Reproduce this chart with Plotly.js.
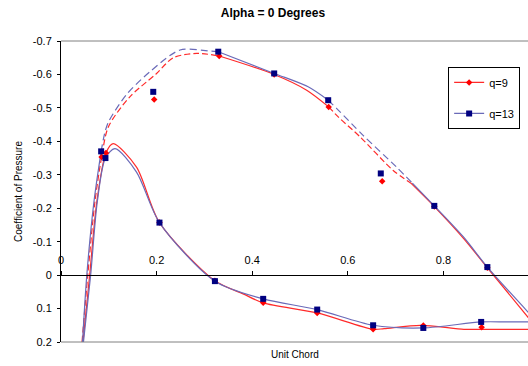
<!DOCTYPE html>
<html>
<head>
<meta charset="utf-8">
<script src="https://cdn.plot.ly/plotly-3.0.1.min.js"></script>
<style>
  html, body { margin: 0; padding: 0; background: #fff; }
  #chart { width: 528px; height: 366px; }
</style>
</head>
<body>
<div id="chart"></div>
<script>
// ---- Pressure taps (chord position, Cp) ----
const tapX9   = [0.085, 0.094, 0.195, 0.331, 0.446, 0.560, 0.672, 0.781, 0.892, 0.206, 0.322, 0.423, 0.536, 0.653, 0.758, 0.880];
const tapCp9  = [-0.353, -0.365, -0.525, -0.655, -0.600, -0.503, -0.281, -0.205, -0.022, -0.157, 0.017, 0.083, 0.113, 0.162, 0.151, 0.156];
const tapX13  = [0.084, 0.093, 0.193, 0.329, 0.446, 0.559, 0.669, 0.781, 0.892, 0.206, 0.322, 0.423, 0.536, 0.653, 0.758, 0.879];
const tapCp13 = [-0.370, -0.350, -0.548, -0.668, -0.603, -0.523, -0.304, -0.207, -0.024, -0.157, 0.018, 0.071, 0.103, 0.150, 0.158, 0.140];

// ---- Upper-surface pressure curves (leading edge -> trailing edge) ----
const upperX9   = [0.044, 0.056, 0.071, 0.085, 0.099, 0.144, 0.200, 0.235, 0.284, 0.331, 0.446, 0.514, 0.560, 0.580, 0.626, 0.695, 0.732, 0.781, 0.842, 0.892, 0.980];
const upperCp9  = [0.200, 0.000, -0.220, -0.353, -0.443, -0.533, -0.603, -0.650, -0.663, -0.655, -0.600, -0.553, -0.503, -0.473, -0.413, -0.313, -0.275, -0.205, -0.110, -0.022, 0.131];
const upperX13  = [0.045, 0.054, 0.069, 0.084, 0.092, 0.100, 0.137, 0.186, 0.249, 0.312, 0.329, 0.446, 0.517, 0.559, 0.577, 0.632, 0.702, 0.735, 0.781, 0.842, 0.892, 0.980];
const upperCp13 = [0.200, 0.000, -0.220, -0.370, -0.428, -0.460, -0.540, -0.608, -0.673, -0.670, -0.668, -0.603, -0.563, -0.523, -0.498, -0.418, -0.323, -0.275, -0.207, -0.114, -0.024, 0.115];

// ---- Lower-surface pressure curves (trailing edge -> leading edge) ----
const lowerX9   = [0.980, 0.878, 0.843, 0.752, 0.676, 0.653, 0.536, 0.423, 0.381, 0.322, 0.206, 0.158, 0.109, 0.094, 0.075, 0.060, 0.046];
const lowerCp9  = [0.162, 0.162, 0.162, 0.150, 0.160, 0.162, 0.113, 0.083, 0.056, 0.017, -0.157, -0.323, -0.393, -0.365, -0.220, 0.000, 0.200];
const lowerX13  = [0.980, 0.932, 0.879, 0.758, 0.653, 0.536, 0.423, 0.322, 0.206, 0.158, 0.113, 0.093, 0.076, 0.062, 0.047];
const lowerCp13 = [0.140, 0.140, 0.140, 0.158, 0.150, 0.103, 0.071, 0.018, -0.157, -0.308, -0.378, -0.350, -0.220, 0.000, 0.200];

// ---- Axis ticks ----
const xTickVals = [0, 0.2, 0.4, 0.6, 0.8];
const xTickText = ['0', '0.2', '0.4', '0.6', '0.8'];
const yTickVals = [-0.7, -0.6, -0.5, -0.4, -0.3, -0.2, -0.1, 0, 0.1, 0.2];
const yTickText = ['-0.7', '-0.6', '-0.5', '-0.4', '-0.3', '-0.2', '-0.1', '0', '0.1', '0.2'];

// ---- Styling ----
const FONT = 'Liberation Sans, Arial, Helvetica, sans-serif';
const series = [
  {
    name: 'q=9', lineColor: '#ff2a2a', markerColor: '#ff0000', symbol: 'diamond', size: 5,
    tapX: tapX9, tapCp: tapCp9, upX: upperX9, upCp: upperCp9, loX: lowerX9, loCp: lowerCp9,
    // index where each line style run of the upper curve begins
    upperRuns: [[0, '6px,3px'], [9, 'solid'], [12, '6px,3px'], [16, 'solid']]
  },
  {
    name: 'q=13', lineColor: '#6a6ab8', markerColor: '#000080', symbol: 'square', size: 6,
    tapX: tapX13, tapCp: tapCp13, upX: upperX13, upCp: upperCp13, loX: lowerX13, loCp: lowerCp13,
    upperRuns: [[0, 'solid'], [3, '7px,4px'], [10, 'solid'], [13, '7px,4px'], [17, 'solid']]
  }
];

const traces = [];
const lineBase = { type: 'scatter', mode: 'lines', showlegend: false, hoverinfo: 'skip' };

series.forEach(s => {
  // lower surface, solid
  traces.push(Object.assign({}, lineBase, {
    x: s.loX, y: s.loCp,
    line: { color: s.lineColor, width: 1.2, shape: 'spline', smoothing: 0.8 }
  }));
  // upper surface, split into runs sharing their end points
  s.upperRuns.forEach((run, i) => {
    const start = run[0];
    const end = i + 1 < s.upperRuns.length ? s.upperRuns[i + 1][0] : s.upX.length - 1;
    traces.push(Object.assign({}, lineBase, {
      x: s.upX.slice(start, end + 1), y: s.upCp.slice(start, end + 1),
      line: { color: s.lineColor, width: 1.2, dash: run[1], shape: 'spline', smoothing: 0.8 }
    }));
  });
});

series.forEach(s => {
  traces.push({
    type: 'scatter', mode: 'markers', showlegend: false,
    x: s.tapX, y: s.tapCp,
    marker: { symbol: s.symbol, size: s.size, color: s.markerColor, line: { width: 0 } }
  });
});

// legend entries (line with marker)
series.forEach((s, i) => {
  traces.push({
    type: 'scatter', mode: 'lines+markers', name: s.name, legendgroup: 'g' + i,
    x: [null], y: [null],
    line: { color: s.lineColor, width: 1.2 },
    marker: { symbol: s.symbol, size: s.size, color: s.markerColor }
  });
});

const layout = {
  width: 528, height: 366,
  margin: { l: 61, r: 0, t: 41, b: 24 },
  paper_bgcolor: '#ffffff', plot_bgcolor: '#ffffff',
  font: { family: FONT, size: 11, color: '#000' },
  title: {
    text: '<b>Alpha = 0 Degrees</b>',
    font: { family: FONT, size: 12, color: '#000' },
    x: 0.517, xanchor: 'center', xref: 'container',
    y: 0.964, yanchor: 'middle', yref: 'container'
  },
  xaxis: {
    range: [0, 0.977],
    anchor: 'free', position: 0.2222, side: 'top',
    tickvals: xTickVals, ticktext: xTickText,
    ticks: 'outside', ticklen: 4, tickcolor: '#000', tickwidth: 1,
    ticklabelstandoff: 3,
    showline: true, linecolor: '#000', linewidth: 1,
    showgrid: false, zeroline: false,
    tickfont: { family: FONT, size: 11, color: '#000' }
  },
  yaxis: {
    range: [0.2, -0.7],
    tickvals: yTickVals, ticktext: yTickText,
    ticks: 'outside', ticklen: 3, tickcolor: '#000', tickwidth: 1,
    ticklabelstandoff: 3,
    showline: true, linecolor: '#000', linewidth: 1,
    showgrid: false, zeroline: false,
    tickfont: { family: FONT, size: 11, color: '#000' },
    title: { text: 'Coefficient of Pressure', font: { family: FONT, size: 10, color: '#000' }, standoff: 8 }
  },
  shapes: [
    { type: 'line', xref: 'paper', yref: 'paper', x0: 0, x1: 1, y0: 1, y1: 1, line: { color: '#808080', width: 1 } },
    { type: 'line', xref: 'paper', yref: 'paper', x0: 0, x1: 1, y0: 0, y1: 0, line: { color: '#808080', width: 1 } }
  ],
  annotations: [
    { text: 'Unit Chord', xref: 'paper', yref: 'paper', x: 0.5, y: 0, yanchor: 'top', yshift: -5,
      showarrow: false, font: { family: FONT, size: 10, color: '#000' } }
  ],
  legend: {
    x: 0.829, y: 0.914, xanchor: 'left', yanchor: 'top',
    bordercolor: '#000', borderwidth: 1, bgcolor: '#fff',
    font: { family: FONT, size: 11, color: '#000' },
    tracegroupgap: 12, traceorder: 'grouped'
  },
  showlegend: true
};

Plotly.newPlot('chart', traces, layout, { staticPlot: true, displayModeBar: false });
</script>
</body>
</html>
